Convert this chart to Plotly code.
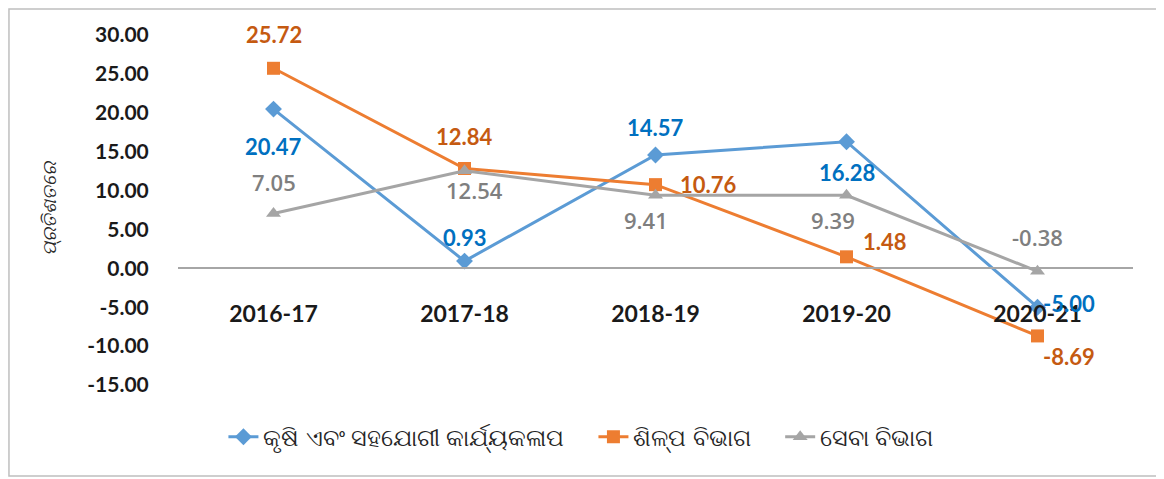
import plotly.graph_objects as go

years = ["2016-17", "2017-18", "2018-19", "2019-20", "2020-21"]
krushi = [20.47, 0.93, 14.57, 16.28, -5.00]
shilpa = [25.72, 12.84, 10.76, 1.48, -8.69]
seba = [7.05, 12.54, 9.41, 9.39, -0.38]
names = ["କୃଷି ଏବଂ ସହଯୋଗୀ କାର୍ଯ୍ୟକଳାପ", "ଶିଳ୍ପ ବିଭାଗ", "ସେବା ବିଭାଗ"]
ytitle = "ପ୍ରତିଶତରେ"
yticks = [30, 25, 20, 15, 10, 5, 0, -5, -10, -15]

font = "Lato, 'Noto Sans', sans-serif"
series = [
    (krushi, "#5B9BD5", "#0070C0", "diamond", font, 700,
     [(0, -37), (0, 24), (0, 28), (0, -31), (31, 4)]),
    (shilpa, "#ED7D31", "#C55A11", "square", font, 700,
     [(0, 34), (0, 32), (53, 0), (38, 15), (31, -21)]),
    (seba, "#A5A5A5", "#7F7F7F", "triangle-up", "'Open Sans', sans-serif", 600,
     [(0, 32), (10, -19), (-10, -25), (-14, -25), (0, 34)]),
]

fig = go.Figure()
anns = []
for (vals, col, lcol, sym, fam, wt, offs), nm in zip(series, names):
    fig.add_trace(go.Scatter(x=years, y=vals, name=nm + "\u00a0" * 4, mode="lines+markers",
                             line=dict(color=col, width=3),
                             marker=dict(symbol=sym, size=13, color=col)))
    for x, v, (dx, dy) in zip(years, vals, offs):
        anns.append(dict(x=x, y=v, xref="x", yref="y", text=f"{v:.2f}",
                         showarrow=False, xshift=dx, yshift=dy,
                         font=dict(family=fam, size=22, color=lcol, weight=wt)))

anns.append(dict(x=-0.134, y=0.506, xref="paper", yref="paper", text=f"<i>{ytitle}</i>",
                 textangle=-90, showarrow=False, xanchor="center", yanchor="middle",
                 font=dict(family=font, size=19, color="#262626")))

# page body has an 8px margin, so the figure is 8px smaller than the window
fig.update_layout(
    width=1156, height=471,
    margin=dict(l=170, r=31, t=27, b=94),
    paper_bgcolor="white", plot_bgcolor="white",
    showlegend=True,
    legend=dict(orientation="h", x=0.435, xanchor="center", y=-0.149, yanchor="middle",
                font=dict(family=font, size=24, color="#262626"),
                tracegroupgap=0),
    annotations=anns,
    shapes=[dict(type="rect", xref="paper", yref="paper", x0=-0.177, x1=1.026, y0=-0.26, y1=1.074,
                 line=dict(color="#BFBFBF", width=1.5))],
)
fig.update_xaxes(type="category", range=[-0.5, 4.5], anchor="free", position=15 / 45,
                 showline=True, linecolor="#A6A6A6", linewidth=1.5, showgrid=False,
                 ticks="outside", ticklen=25, tickcolor="rgba(0,0,0,0)", automargin=False,
                 tickvals=years, ticktext=[f"<b>{y}</b>" for y in years],
                 tickfont=dict(family=font, size=23, color="#1a1a1a"))
fig.update_yaxes(range=[-15, 30], tickvals=yticks, ticktext=[f"<b>{t:.2f}</b>" for t in yticks],
                 showgrid=False, zeroline=False, showline=False, automargin=False,
                 ticks="outside", ticklen=24, tickcolor="rgba(0,0,0,0)",
                 tickfont=dict(family=font, size=21, color="#1a1a1a"))

fig.write_html("out.html")
